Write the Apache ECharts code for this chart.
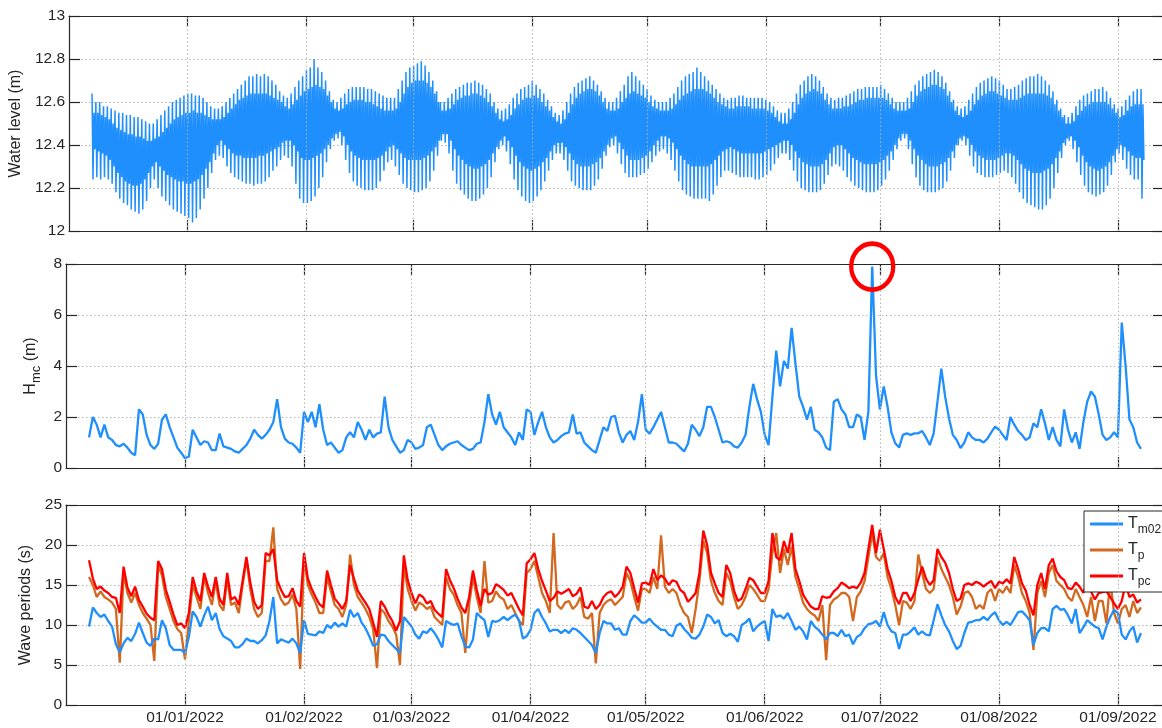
<!DOCTYPE html>
<html><head><meta charset="utf-8">
<script src="https://cdn.jsdelivr.net/npm/echarts@6/dist/echarts.min.js"></script>
<style>html,body{margin:0;padding:0;overflow:hidden;background:#fff}#c{width:1166px;height:728px}</style>
</head><body><div id="c"></div>
<script>
// ---------------- data (daily samples, first sample 7 Dec 2021) ----------------
const firstDay = '2021-12-07';
const axisStart = '2021-12-01';
const axisEnd = '2022-09-13';
const monthTicks = ['2022-01-01','2022-02-01','2022-03-01','2022-04-01','2022-05-01','2022-06-01','2022-07-01','2022-08-01','2022-09-01'];
const monthLabels = ['01/01/2022','01/02/2022','01/03/2022','01/04/2022','01/05/2022','01/06/2022','01/07/2022','01/08/2022','01/09/2022'];

// water level: higher high, lower low, lower high, higher low of each day (m)
const wlHH = [
12.64,12.60,12.60,12.58,12.58,12.57,12.56,12.55,12.55,12.54,
12.54,12.53,12.53,12.52,12.51,12.50,12.50,12.52,12.54,12.56,
12.58,12.60,12.61,12.62,12.63,12.64,12.64,12.63,12.63,12.62,
12.60,12.58,12.57,12.57,12.58,12.60,12.62,12.64,12.66,12.68,
12.70,12.72,12.72,12.73,12.72,12.73,12.72,12.70,12.68,12.65,
12.63,12.62,12.64,12.67,12.70,12.72,12.75,12.76,12.80,12.76,
12.74,12.70,12.65,12.61,12.60,12.62,12.64,12.66,12.67,12.67,
12.67,12.67,12.66,12.66,12.65,12.64,12.63,12.62,12.62,12.62,
12.66,12.70,12.74,12.76,12.77,12.78,12.79,12.77,12.74,12.70,
12.65,12.60,12.60,12.62,12.64,12.66,12.67,12.68,12.69,12.69,
12.70,12.69,12.68,12.66,12.64,12.60,12.57,12.56,12.57,12.59,
12.62,12.64,12.66,12.67,12.68,12.70,12.68,12.66,12.64,12.61,
12.58,12.55,12.54,12.56,12.60,12.64,12.67,12.69,12.70,12.71,
12.72,12.70,12.68,12.65,12.62,12.60,12.60,12.62,12.65,12.68,
12.72,12.74,12.72,12.70,12.68,12.66,12.63,12.61,12.60,12.60,
12.60,12.62,12.64,12.67,12.70,12.72,12.73,12.74,12.76,12.74,
12.72,12.70,12.68,12.66,12.64,12.62,12.61,12.62,12.62,12.63,
12.63,12.62,12.62,12.62,12.62,12.62,12.61,12.60,12.58,12.56,
12.55,12.55,12.57,12.60,12.64,12.68,12.70,12.72,12.73,12.72,
12.70,12.67,12.64,12.62,12.61,12.62,12.62,12.63,12.64,12.65,
12.66,12.66,12.67,12.67,12.67,12.67,12.68,12.66,12.64,12.62,
12.60,12.60,12.60,12.62,12.65,12.68,12.70,12.72,12.73,12.74,
12.75,12.74,12.72,12.69,12.65,12.61,12.58,12.57,12.58,12.61,
12.64,12.67,12.69,12.70,12.71,12.72,12.71,12.70,12.68,12.66,
12.66,12.67,12.68,12.70,12.71,12.72,12.72,12.73,12.72,12.70,
12.68,12.65,12.61,12.57,12.54,12.53,12.55,12.58,12.61,12.63,
12.64,12.65,12.66,12.66,12.67,12.65,12.62,12.59,12.57,12.58,
12.61,12.63,12.65,12.66,12.66];
const wlLL = [
12.24,12.25,12.24,12.25,12.24,12.22,12.18,12.15,12.13,12.12,
12.10,12.09,12.08,12.10,12.14,12.20,12.24,12.20,12.16,12.14,
12.12,12.10,12.09,12.08,12.07,12.06,12.04,12.06,12.10,12.15,
12.20,12.27,12.33,12.35,12.34,12.30,12.27,12.25,12.24,12.23,
12.22,12.22,12.21,12.22,12.22,12.23,12.25,12.28,12.30,12.33,
12.35,12.34,12.30,12.22,12.15,12.13,12.13,12.14,12.16,12.20,
12.25,12.32,12.38,12.42,12.43,12.40,12.33,12.27,12.23,12.21,
12.20,12.19,12.19,12.19,12.20,12.23,12.28,12.32,12.33,12.30,
12.26,12.22,12.20,12.19,12.18,12.18,12.19,12.20,12.23,12.28,
12.35,12.42,12.41,12.36,12.28,12.22,12.19,12.17,12.15,12.14,
12.14,12.15,12.17,12.20,12.25,12.32,12.38,12.40,12.37,12.31,
12.24,12.19,12.16,12.14,12.13,12.14,12.16,12.19,12.23,12.28,
12.33,12.36,12.36,12.33,12.28,12.23,12.21,12.20,12.19,12.19,
12.19,12.21,12.24,12.29,12.35,12.39,12.40,12.36,12.31,12.27,
12.25,12.25,12.25,12.26,12.27,12.29,12.32,12.35,12.37,12.38,
12.36,12.33,12.28,12.23,12.19,12.17,12.16,12.15,12.15,12.15,
12.15,12.14,12.17,12.21,12.25,12.28,12.28,12.27,12.26,12.25,
12.25,12.25,12.25,12.24,12.24,12.25,12.26,12.28,12.31,12.34,
12.36,12.36,12.33,12.28,12.23,12.20,12.19,12.18,12.18,12.18,
12.19,12.22,12.26,12.30,12.31,12.30,12.28,12.25,12.23,12.21,
12.20,12.19,12.18,12.18,12.18,12.19,12.21,12.24,12.28,12.33,
12.38,12.42,12.43,12.38,12.31,12.25,12.21,12.19,12.18,12.18,
12.18,12.19,12.20,12.23,12.28,12.34,12.40,12.42,12.40,12.35,
12.30,12.27,12.26,12.25,12.25,12.25,12.26,12.27,12.28,12.27,
12.25,12.22,12.18,12.15,12.13,12.12,12.11,12.10,12.10,12.12,
12.15,12.20,12.27,12.34,12.40,12.42,12.38,12.32,12.26,12.21,
12.18,12.17,12.16,12.17,12.18,12.21,12.26,12.32,12.36,12.33,
12.29,12.26,12.24,12.24,12.15];
const wlLH = [
12.55,12.55,12.54,12.53,12.52,12.50,12.48,12.47,12.46,12.45,
12.45,12.44,12.44,12.43,12.42,12.42,12.43,12.44,12.46,12.48,
12.50,12.52,12.53,12.54,12.55,12.55,12.56,12.55,12.55,12.54,
12.53,12.52,12.52,12.52,12.53,12.55,12.57,12.59,12.61,12.62,
12.63,12.64,12.64,12.64,12.64,12.64,12.63,12.62,12.61,12.60,
12.58,12.57,12.59,12.61,12.63,12.65,12.66,12.67,12.68,12.67,
12.66,12.63,12.60,12.57,12.56,12.57,12.59,12.60,12.61,12.61,
12.61,12.60,12.60,12.59,12.58,12.57,12.56,12.56,12.56,12.57,
12.60,12.64,12.67,12.69,12.70,12.70,12.70,12.69,12.67,12.64,
12.60,12.56,12.56,12.57,12.59,12.61,12.62,12.63,12.63,12.64,
12.64,12.63,12.62,12.60,12.58,12.55,12.52,12.51,12.52,12.54,
12.57,12.59,12.61,12.62,12.62,12.63,12.62,12.60,12.58,12.56,
12.53,12.51,12.50,12.52,12.55,12.59,12.62,12.64,12.65,12.66,
12.66,12.65,12.63,12.60,12.57,12.56,12.56,12.57,12.60,12.62,
12.64,12.65,12.64,12.63,12.62,12.60,12.58,12.57,12.56,12.56,
12.56,12.57,12.59,12.61,12.63,12.64,12.65,12.66,12.66,12.66,
12.65,12.64,12.62,12.60,12.59,12.58,12.57,12.57,12.58,12.58,
12.58,12.58,12.57,12.57,12.57,12.57,12.56,12.55,12.53,12.51,
12.50,12.50,12.52,12.55,12.59,12.62,12.64,12.65,12.66,12.65,
12.64,12.61,12.59,12.57,12.57,12.57,12.58,12.58,12.59,12.60,
12.61,12.61,12.62,12.62,12.62,12.62,12.62,12.61,12.59,12.57,
12.56,12.56,12.56,12.57,12.60,12.63,12.65,12.66,12.67,12.68,
12.68,12.67,12.66,12.63,12.60,12.56,12.54,12.53,12.54,12.56,
12.59,12.61,12.63,12.64,12.65,12.65,12.64,12.63,12.62,12.61,
12.61,12.61,12.62,12.63,12.64,12.64,12.64,12.64,12.64,12.63,
12.62,12.59,12.56,12.53,12.50,12.50,12.51,12.54,12.56,12.58,
12.59,12.60,12.60,12.60,12.60,12.59,12.57,12.55,12.53,12.54,
12.56,12.58,12.59,12.59,12.59];
const wlHL = [
12.38,12.37,12.36,12.35,12.33,12.30,12.27,12.25,12.23,12.22,
12.21,12.21,12.22,12.24,12.27,12.30,12.32,12.30,12.28,12.26,
12.25,12.24,12.23,12.23,12.22,12.22,12.23,12.24,12.26,12.29,
12.32,12.36,12.40,12.42,12.40,12.38,12.36,12.35,12.35,12.34,
12.34,12.34,12.34,12.35,12.35,12.36,12.37,12.38,12.39,12.41,
12.42,12.42,12.40,12.37,12.34,12.33,12.33,12.34,12.35,12.36,
12.38,12.40,12.43,12.45,12.46,12.44,12.40,12.37,12.35,12.34,
12.33,12.33,12.33,12.33,12.34,12.35,12.37,12.39,12.40,12.38,
12.36,12.34,12.33,12.33,12.33,12.33,12.34,12.35,12.37,12.39,
12.42,12.45,12.45,12.42,12.38,12.35,12.33,12.31,12.30,12.29,
12.29,12.30,12.31,12.33,12.36,12.39,12.42,12.44,12.42,12.39,
12.35,12.32,12.30,12.29,12.28,12.29,12.30,12.32,12.34,12.37,
12.40,12.41,12.41,12.39,12.36,12.33,12.31,12.30,12.30,12.30,
12.31,12.32,12.34,12.37,12.40,12.43,12.44,12.41,12.38,12.35,
12.33,12.33,12.33,12.34,12.35,12.37,12.40,12.42,12.44,12.44,
12.43,12.41,12.38,12.35,12.33,12.31,12.30,12.30,12.30,12.30,
12.30,12.31,12.33,12.35,12.37,12.38,12.39,12.38,12.37,12.36,
12.36,12.36,12.36,12.36,12.36,12.37,12.38,12.39,12.40,12.41,
12.42,12.42,12.40,12.37,12.34,12.32,12.31,12.30,12.30,12.30,
12.31,12.33,12.36,12.39,12.40,12.40,12.38,12.36,12.34,12.33,
12.32,12.31,12.31,12.31,12.31,12.32,12.33,12.35,12.37,12.40,
12.43,12.45,12.45,12.42,12.38,12.35,12.33,12.31,12.30,12.30,
12.30,12.31,12.32,12.34,12.37,12.40,12.43,12.44,12.43,12.40,
12.37,12.35,12.34,12.33,12.33,12.33,12.34,12.35,12.36,12.36,
12.35,12.33,12.31,12.29,12.28,12.27,12.27,12.27,12.28,12.29,
12.31,12.34,12.37,12.41,12.43,12.44,12.42,12.39,12.35,12.32,
12.30,12.29,12.28,12.29,12.30,12.32,12.35,12.38,12.40,12.39,
12.37,12.35,12.34,12.34,12.33];

// significant wave height (m)
const hm0 = [
1.2,2.0,1.7,1.2,1.7,1.2,1.1,0.9,0.85,0.95,
0.8,0.6,0.5,2.3,2.1,1.3,0.9,0.75,0.95,1.9,
2.1,1.6,1.2,0.8,0.6,0.38,0.45,1.5,1.2,0.9,
1.05,1.0,0.7,0.7,1.35,0.85,0.8,0.75,0.65,0.6,
0.75,0.9,1.15,1.5,1.3,1.15,1.3,1.5,1.8,2.7,
1.6,1.15,1.0,0.95,0.8,0.6,2.2,1.8,2.2,1.6,
2.5,1.5,0.9,1.0,0.8,0.6,0.7,1.2,1.4,1.2,
1.8,1.5,1.1,1.5,1.2,1.35,1.4,2.8,1.6,1.1,
0.85,0.6,0.7,1.1,1.0,0.75,0.8,0.9,1.6,1.7,
1.3,0.9,0.7,0.85,0.95,1.0,1.05,0.9,0.8,0.7,
0.75,0.95,1.0,1.8,2.9,2.1,1.7,2.2,1.6,1.4,
1.2,0.9,1.4,1.1,2.3,2.2,1.3,1.8,2.2,1.6,
1.2,1.0,1.1,1.25,1.35,1.4,2.1,1.35,1.4,1.0,
0.85,0.7,0.6,1.1,1.6,1.45,2.0,2.05,1.4,1.0,
1.3,1.45,1.1,1.8,2.9,1.5,1.35,1.6,1.9,2.2,
1.6,1.0,1.0,0.95,0.8,0.65,0.95,1.7,1.5,1.25,
1.6,2.4,2.4,2.0,1.5,1.0,1.05,1.0,0.85,0.8,
1.0,1.3,2.4,3.3,2.7,2.2,1.3,0.9,2.8,4.6,
3.2,4.2,3.9,5.5,4.1,2.8,2.4,1.9,2.4,1.5,
1.4,1.2,0.8,0.7,2.6,2.7,2.3,2.1,1.6,1.6,
2.1,2.0,1.1,2.2,7.9,3.6,2.3,3.2,2.4,1.4,
0.97,0.8,1.3,1.36,1.3,1.36,1.36,1.45,1.2,0.9,
1.36,2.6,3.9,2.8,1.95,1.3,1.1,0.78,1.0,1.4,
1.2,1.1,1.1,1.0,1.15,1.4,1.62,1.5,1.3,1.1,
2.0,1.7,1.45,1.3,1.1,1.2,1.75,1.6,2.3,1.75,
1.1,1.6,1.1,0.85,2.3,1.5,1.0,1.4,0.75,1.8,
2.6,3.0,2.8,2.1,1.3,1.1,1.2,1.4,1.2,5.7,
4.0,1.9,1.6,1.0,0.75];

// wave periods (s)
const tm02 = [
9.8,12.2,11.5,11.0,11.3,10.5,9.8,7.6,6.6,7.7,
8.4,8.0,8.9,10.3,9.0,7.8,7.4,8.3,8.2,10.6,
9.6,7.5,6.9,6.9,6.9,6.5,8.5,11.7,11.0,9.8,
11.2,12.3,10.6,11.5,9.5,8.6,8.3,8.0,7.2,7.2,
7.6,8.3,8.0,8.0,7.7,8.1,8.7,10.5,13.5,7.7,
8.2,8.0,7.8,8.3,7.7,6.5,10.6,8.9,8.8,8.7,
9.2,9.0,10.0,9.6,10.3,9.8,10.2,9.8,11.9,11.0,
11.5,10.3,9.6,8.6,7.4,7.6,8.8,8.7,8.0,7.5,
7.0,6.5,11.0,10.4,9.8,8.8,8.3,9.2,9.0,9.6,
9.0,8.2,7.2,10.5,10.2,10.0,10.2,8.6,7.3,7.2,
8.2,11.5,11.0,10.6,8.5,10.5,10.4,10.6,11.0,10.6,
11.0,11.3,10.6,8.3,8.6,9.4,11.5,12.0,11.0,10.2,
9.2,9.4,9.4,9.0,9.4,9.0,9.6,9.4,9.0,8.5,
8.0,7.5,6.5,9.0,10.5,10.2,10.2,9.4,9.6,8.8,
8.8,10.5,11.2,10.8,10.3,10.3,10.8,10.2,9.8,9.4,
9.4,8.8,8.6,9.9,10.2,9.5,9.0,8.4,8.3,8.8,
9.8,11.3,11.0,10.2,10.6,9.0,8.6,8.9,8.6,7.9,
10.0,10.3,10.8,9.2,9.8,10.2,10.5,8.0,12.0,11.0,
11.2,10.8,11.5,10.5,9.4,9.8,9.2,8.2,10.5,9.8,
9.4,8.8,8.2,9.0,9.0,8.6,9.4,8.6,8.8,7.6,
8.5,8.8,9.6,10.1,10.2,10.5,9.8,11.6,10.0,9.2,
9.0,7.0,8.8,8.8,9.2,9.7,8.8,9.2,8.8,8.7,
10.6,12.6,11.2,10.0,9.2,8.0,7.0,7.4,9.0,10.3,
10.4,10.6,10.6,11.0,10.6,11.2,11.6,10.6,10.0,10.4,
10.0,10.8,11.6,11.7,11.2,10.6,7.5,9.0,9.6,9.6,
9.2,12.0,12.4,11.9,12.0,11.2,10.2,12.0,9.0,9.7,
10.6,10.2,9.8,9.6,8.2,9.8,11.0,11.9,11.5,8.8,
8.2,9.2,9.8,7.8,9.0];
const tp = [
16.0,15.0,13.5,14.2,13.5,13.2,12.8,12.0,5.3,16.5,
14.0,12.8,14.0,12.5,11.5,10.8,10.0,5.5,17.5,16.2,
13.5,12.0,10.5,9.5,9.0,5.7,10.5,15.0,13.5,12.0,
16.0,14.0,12.5,15.5,12.5,11.8,15.8,12.5,12.8,11.5,
15.0,18.2,14.5,12.0,11.0,11.5,18.0,18.0,22.2,14.5,
13.2,12.5,12.8,13.8,12.0,4.5,18.5,15.0,13.8,12.8,
11.5,11.5,16.0,14.2,12.5,12.0,11.0,12.5,18.8,15.0,
13.5,12.8,12.0,11.0,9.5,4.6,12.0,11.5,10.5,9.8,
8.8,5.0,17.5,14.5,13.0,11.8,12.8,12.5,12.0,12.3,
11.0,10.5,10.0,16.0,14.5,13.8,12.5,11.5,6.5,12.5,
16.0,13.5,11.5,18.0,12.8,13.0,14.2,13.5,13.2,12.0,
12.5,11.5,10.5,10.0,16.5,17.0,18.0,16.0,14.0,13.0,
11.5,21.5,12.5,12.0,12.8,13.0,12.0,12.5,13.5,11.0,
10.8,11.5,5.2,11.5,12.5,13.0,13.2,12.5,13.0,13.5,
16.5,15.5,13.5,11.8,14.5,14.5,14.0,16.0,14.5,21.2,
14.8,14.0,14.5,14.0,12.5,11.5,11.0,9.0,12.0,15.5,
20.5,19.0,15.5,14.0,13.0,12.5,16.5,15.5,13.5,12.0,
12.5,13.5,15.0,14.5,13.8,13.0,13.0,14.5,19.0,21.5,
16.5,19.5,17.5,19.8,16.0,14.5,12.8,12.0,11.5,11.2,
10.5,12.5,5.6,12.5,13.2,13.5,14.0,14.0,13.5,10.5,
13.5,14.2,15.5,18.5,21.5,18.5,18.0,19.0,16.0,14.5,
12.5,10.0,13.0,12.8,12.0,13.0,18.8,16.5,14.5,14.0,
14.5,18.5,17.0,16.0,15.0,13.5,11.3,12.3,14.0,14.2,
13.5,12.0,12.5,12.0,14.0,14.5,13.0,14.5,14.0,14.8,
14.0,17.5,16.0,14.0,13.0,11.5,6.9,14.0,15.5,13.5,
16.5,17.5,15.5,15.0,14.5,13.5,13.0,14.5,13.5,12.5,
11.0,13.5,10.5,13.0,13.0,10.2,15.6,11.5,10.2,12.0,
12.5,11.0,13.0,11.5,12.2];
const tpc = [
18.1,15.8,14.5,14.8,14.3,14.0,13.5,13.4,11.5,17.3,
14.7,13.6,14.8,13.1,12.3,11.4,10.9,10.6,18.0,17.0,
14.4,12.9,11.3,10.0,10.2,9.6,11.5,16.0,14.2,13.0,
16.5,14.8,13.5,16.0,13.3,12.5,16.5,13.2,13.5,12.5,
15.5,18.5,15.3,12.9,12.0,12.5,19.0,18.7,19.5,15.6,
14.4,13.5,13.6,14.6,13.0,12.3,19.0,15.8,14.5,13.5,
12.6,12.2,16.8,15.0,13.3,12.7,12.0,13.0,17.5,15.8,
14.3,13.5,12.8,12.0,10.3,8.5,13.0,12.3,11.3,10.5,
9.3,10.5,18.7,15.6,14.0,12.7,13.8,13.5,12.7,13.0,
11.9,11.4,11.0,17.0,15.6,14.6,13.3,12.2,11.5,13.5,
16.8,14.4,12.4,14.5,13.8,14.0,15.1,14.8,14.4,13.7,
14.0,13.0,12.0,11.2,17.7,18.2,19.0,17.0,15.5,14.3,
13.0,13.4,14.2,13.9,14.2,14.5,13.6,13.9,14.7,12.3,
12.1,13.0,12.0,12.5,13.5,14.0,14.2,13.5,14.0,14.8,
17.3,16.5,14.6,12.8,15.2,15.3,15.0,17.0,15.6,16.2,
15.8,15.0,15.6,15.4,14.4,14.0,12.9,13.4,14.0,16.5,
21.8,20.0,16.5,15.2,14.0,13.5,17.5,16.5,14.3,13.0,
13.3,14.5,15.9,15.6,14.8,14.0,14.0,15.5,21.5,18.5,
18.1,20.5,19.0,21.5,17.0,15.5,13.8,13.0,12.3,12.0,
12.0,13.6,13.4,13.5,14.2,14.6,15.3,15.0,14.6,14.8,
14.6,15.3,16.5,19.5,22.5,19.0,21.9,19.5,17.0,15.5,
13.5,12.6,14.0,14.0,13.0,14.0,15.7,17.3,15.8,15.0,
15.6,19.5,18.5,17.8,16.5,14.5,13.0,13.3,15.0,15.2,
15.0,15.4,15.2,14.8,15.2,15.5,14.6,15.4,15.2,15.7,
15.2,18.5,17.0,15.2,14.3,12.5,11.2,15.0,16.5,14.5,
17.5,18.3,16.7,16.0,15.6,14.6,14.5,15.3,14.8,14.0,
15.6,14.2,13.2,14.0,14.1,14.2,13.5,12.7,12.0,13.0,
15.2,13.5,13.8,12.8,13.2];

// ---------------- build ----------------
function ts(s){ const p = s.split('-').map(Number); return new Date(p[0], p[1]-1, p[2]).getTime(); }
const DAY = 86400000;
const t0 = ts(firstDay);
const dayT = i => t0 + i*DAY;
const tickTs = monthTicks.map(ts);

const wlData = [];
wlHH.forEach((v, i) => {
  const t = dayT(i), q = DAY/4;
  wlData.push([t, wlHH[i]], [t+q, wlLL[i]], [t+2*q, wlLH[i]], [t+3*q, wlHL[i]]);
});
const daily = arr => arr.map((v, i) => [dayT(i), v]);

const INK = '#262626';
const FONT = "'Liberation Sans', Arial, sans-serif";
const grids = [
  {left:66, right:2, top:16, height:215},
  {left:66, right:2, top:264, height:204},
  {left:66, right:2, top:505, height:200}
];
function xAx(g, pos){
  const bottom = pos === 'bottom';
  return {
    type:'value', gridIndex:g, position:pos, min:ts(axisStart), max:ts(axisEnd),
    axisLine:{show:true, onZero:false, lineStyle:{color:INK, width:1.2}},
    axisTick:{show:true, inside:true, length:11, customValues:tickTs, lineStyle:{color:INK, width:1.2}},
    axisLabel:{show:bottom && g===2, customValues:tickTs, fontSize:15.5, fontFamily:FONT, color:INK, margin:5,
      formatter:function(v){ for (let k=0;k<tickTs.length;k++){ if (Math.abs(tickTs[k]-v) < 3600000) return monthLabels[k]; } return ''; }},
    splitLine:{show:false}, minorSplitLine:{show:false}
  };
}
const yNames = [
  {name:'Water level (m)', gap:32},
  {name:'{h|H}{s|mc}{h| (m)}', gap:7},
  {name:'Wave periods (s)', gap:18}
];
const yScale = [[12,13,0.2],[0,8,2],[0,25,5]];
function yAx(g, pos){
  const left = pos === 'left';
  const o = {
    type:'value', gridIndex:g, position:pos, min:yScale[g][0], max:yScale[g][1], interval:yScale[g][2],
    axisLine:{show:true, onZero:false, lineStyle:{color:INK, width:1.2}},
    axisTick:{show:true, inside:true, length:11, lineStyle:{color:INK, width:1.2}},
    axisLabel:{show:left, fontSize:15.5, fontFamily:FONT, color:INK, margin:4},
    splitLine: left ? {show:true, lineStyle:{color:'#b4b4b4', type:[1.5,2.5], width:1}} : {show:false}
  };
  if (left) {
    o.name = yNames[g].name; o.nameLocation = 'middle'; o.nameGap = yNames[g].gap;
    o.nameTextStyle = {fontSize:16, fontFamily:FONT, color:INK,
      rich:{h:{fontSize:16, fontFamily:FONT, color:INK, lineHeight:16, verticalAlign:'top'},
            s:{fontSize:13, fontFamily:FONT, color:INK, lineHeight:13, padding:[7,0,0,0], verticalAlign:'top'}}};
  }
  return o;
}
const line = (name, g, data, color, width) => ({
  name, type:'line', xAxisIndex:g, yAxisIndex:g, data, showSymbol:false, symbol:'none',
  sampling:null, animation:false, color, lineStyle:{color, width}, emphasis:{disabled:true}
});
// vertical dotted grid lines at the month ticks
const monthGrid = () => ({
  silent:true, symbol:['none','none'], animation:false,
  label:{show:false}, lineStyle:{color:'#b4b4b4', type:[1.5,2.5], width:1}, emphasis:{disabled:true},
  data: tickTs.map(t => ({xAxis:t}))
});

const BLUE = '#1e8ffc', ORANGE = '#d2691e', RED = '#ff0000';
const wlSeries = line('Water level', 0, wlData, BLUE, 1.5);
wlSeries.markLine = monthGrid();
const hmSeries = line('Hm', 1, daily(hm0), BLUE, 2.3);
hmSeries.markLine = monthGrid();
hmSeries.markPoint = {
  symbol:'circle', symbolSize:[42,46], silent:true, animation:false,
  itemStyle:{color:'rgba(0,0,0,0)', borderColor:RED, borderWidth:4.5},
  label:{show:false}, data:[{type:'max'}]
};
const tpSeries = line('Tp', 2, daily(tp), ORANGE, 2.3);
tpSeries.markLine = monthGrid();

const option = {
  animation:false,
  backgroundColor:'#fff',
  grid: grids,
  xAxis: [xAx(0,'bottom'), xAx(1,'bottom'), xAx(2,'bottom'), xAx(0,'top'), xAx(1,'top'), xAx(2,'top')],
  yAxis: [yAx(0,'left'), yAx(1,'left'), yAx(2,'left'), yAx(0,'right'), yAx(1,'right'), yAx(2,'right')],
  legend: {
    orient:'vertical', left:1084, top:511, padding:[5,8,4,6], itemGap:6,
    itemWidth:33, itemHeight:3, icon:'rect',
    backgroundColor:'#fff', borderColor:INK, borderWidth:1, borderRadius:0,
    data:['Tm02','Tp','Tpc'], selectedMode:false,
    formatter: n => '{b|T}{s|' + n.slice(1) + '}',
    textStyle:{color:INK, fontFamily:FONT, fontSize:16,
      rich:{b:{fontSize:16, fontFamily:FONT, color:INK, lineHeight:16, verticalAlign:'top'},
            s:{fontSize:12, fontFamily:FONT, color:INK, lineHeight:12, padding:[8,0,0,0], verticalAlign:'top'}}}
  },
  series: [
    wlSeries,
    hmSeries,
    tpSeries,
    line('Tpc', 2, daily(tpc), RED, 2.3),
    line('Tm02', 2, daily(tm02), BLUE, 2.3)
  ]
};
const chart = echarts.init(document.getElementById('c'), null, {renderer:'canvas'});
chart.setOption(option);
</script>
</body></html>
